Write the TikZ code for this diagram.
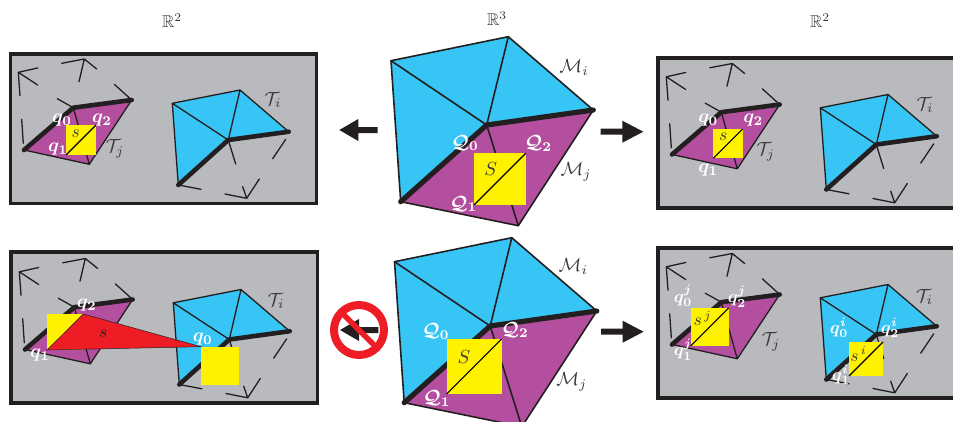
\documentclass[tikz,border=0pt]{standalone}
\usepackage{amsmath,amssymb,bm}
\definecolor{frameblack}{HTML}{231F20}
\definecolor{panelgray}{HTML}{B9BABD}
\definecolor{meshblue}{HTML}{36C5F4}
\definecolor{meshmag}{HTML}{B34F9E}
\definecolor{sqyellow}{HTML}{FFF200}
\definecolor{signred}{HTML}{EE1C25}
\definecolor{labgray}{HTML}{3A3A3C}
\tikzset{
 x=1pt,y=-1pt,
 panel/.style={fill=panelgray,draw=frameblack,line width=3.5pt},
 thinline/.style={draw=frameblack,line width=1.3pt,line join=round,line cap=round},
 thickline/.style={draw=frameblack,line width=4.6pt,line join=round,line cap=round},
 mthin/.style={draw=frameblack,line width=1.6pt,line join=round,line cap=round},
 mthick/.style={draw=frameblack,line width=5.2pt,line join=round,line cap=round},
 sqfill/.style={fill=sqyellow,draw=none},
 diag/.style={draw=black,line width=1.1pt},
 whitelab/.style={text=white,inner sep=0pt,scale=1.9},
 whitesm/.style={text=white,inner sep=0pt,scale=1.75},
 graylab/.style={text=labgray,inner sep=0pt,scale=1.9},
 slab/.style={text=labgray,inner sep=0pt,scale=1.75},
 biglab/.style={text=labgray,inner sep=0pt,scale=1.7},
 arrowshape/.style={fill=frameblack,draw=none},
}
% flat pieces, coordinates as in the upper left panel
\newcommand{\flatmesh}[1]{%
\begin{scope}[shift={#1}]
 \coordinate (A) at (24,150); \coordinate (B) at (73.3,107.7);
 \coordinate (C) at (131.7,100); \coordinate (D) at (89.3,164.3);
 \coordinate (P) at (172.3,103.3); \coordinate (Q) at (240,90);
 \coordinate (R) at (288.7,131.7); \coordinate (O) at (228.3,140);
 \coordinate (S) at (178.3,185);
 \fill[meshmag] (A)--(B)--(C)--(D)--cycle;
 \fill[meshblue] (P)--(Q)--(R)--(O)--(S)--cycle;
 \draw[thinline] (20,95.7)--(18.3,72.3)--(37.7,68) (18.3,72.3)--(37.7,85);
 \draw[thinline] (79,81.7)--(84.3,59)--(96.7,69) (61.7,63.3)--(84.3,59);
 \draw[thinline] (21.7,119.3)--(23.3,143.3);
 \draw[thinline] (57.3,98.7)--(B)--(D)--(A) (114.3,84.3)--(C)--(D);
 \draw[thinline] (R)--(Q)--(P)--(S) (P)--(O)--(Q);
 \draw[thinline] (O)--(235.7,164) (285.7,139.3)--(272.7,158.7);
 \draw[thinline] (S)--(201,189.3) (225,194)--(246.7,198.3)--(259.3,179) (246.7,198.3)--(242.7,186.7);
 \draw[thickline] (A)--(B)--(C);
 \draw[thickline] (S)--(O)--(R);
\end{scope}}
% central mesh
\newcommand{\bigmesh}[1]{%
\begin{scope}[shift={#1}]
 \coordinate (MP) at (391,60.7); \coordinate (MQ) at (508.3,36.7);
 \coordinate (MR) at (593.3,110); \coordinate (MO) at (486.7,125);
 \coordinate (MS) at (400.7,201.7); \coordinate (MD) at (518.3,225.7);
 \fill[meshblue] (MP)--(MQ)--(MR)--(MO)--(MS)--cycle;
 \fill[meshmag] (MS)--(MO)--(MR)--(MD)--cycle;
 \draw[mthin] (MR)--(MQ)--(MP)--(MS)--(MD)--(MR);
 \draw[mthin] (MP)--(MO)--(MQ) (MO)--(MD);
 \draw[mthick] (MS)--(MO)--(MR);
\end{scope}}
\newcommand{\leftarrowshape}[2]{\fill[arrowshape,shift={(#1,#2)}] (0,0)--(19,-11)--(19,-3)--(38.4,-3)--(38.4,3)--(19,3)--(19,11)--cycle;}
\newcommand{\rightarrowshape}[2]{\fill[arrowshape,shift={(#1,#2)}] (0,-3)--(21.6,-3)--(21.6,-11)--(42.6,0)--(21.6,11)--(21.6,3)--(0,3)--cycle;}
\begin{document}
\begin{tikzpicture}
\useasboundingbox (0,0) rectangle (953,421);
\begin{scope}
\clip (0,0) rectangle (953,421);
\node[biglab] (r2a) at (172,21) {$\mathbb{R}^2$};
\node[biglab] (r3) at (497,19) {$\mathbb{R}^3$};
\node[biglab] (r2b) at (820,21) {$\mathbb{R}^2$};

% panels
\draw[panel] (10.3,53.8) rectangle (316.5,203.5);
\draw[panel] (657.8,57.8) rectangle (960,208.2);
\draw[panel] (10.8,251.8) rectangle (317.5,403.2);
\draw[panel] (657.8,247.8) rectangle (960,398.2);

% upper left panel
\flatmesh{(0,0)}
\fill[sqfill] (66,125) rectangle (96,155);
\draw[diag] (66,155)--(96,125);
\node[whitelab] (a0) at (62,120.5) {$\bm{q_0}$};
\node[whitelab] (a1) at (58,149.5) {$\bm{q_1}$};
\node[whitelab] (a2) at (102,120.5) {$\bm{q_2}$};
\node[slab] (as) at (75.7,134) {$s$};
\node[graylab] (atj) at (115,149) {$\mathcal{T}_j$};
\node[graylab] (ati) at (273,100) {$\mathcal{T}_i$};

% upper right panel
\flatmesh{(648,4.5)}
\fill[sqfill] (713.3,129) rectangle (742.7,158.3);
\draw[diag] (713.3,158.3)--(742.7,129);
\node[whitelab] (b0) at (708.3,120.5) {$\bm{q_0}$};
\node[whitelab] (b1) at (708.3,170.5) {$\bm{q_1}$};
\node[whitelab] (b2) at (753.3,120.5) {$\bm{q_2}$};
\node[slab] (bs) at (723.3,136.7) {$s$};
\node[graylab] (btj) at (765.7,152) {$\mathcal{T}_j$};
\node[graylab] (bti) at (925,105) {$\mathcal{T}_i$};

% lower left panel
\flatmesh{(1,199.5)}
\fill[sqfill] (47,314) rectangle (83,350);
\fill[sqfill] (201,346.7) rectangle (239,384.7);
\coordinate (t1) at (47,350); \coordinate (t2) at (83.3,314); \coordinate (t0) at (201,346.7);
\fill[signred] (t1)--(t2)--(t0)--cycle;
\draw[draw=frameblack,line width=.5pt] (t1)--(t2)--(t0)--cycle;
\node[whitelab] (c0) at (202.7,339) {$\bm{q_0}$};
\node[whitelab] (c1) at (40,355.5) {$\bm{q_1}$};
\node[whitelab] (c2) at (86.7,305.5) {$\bm{q_2}$};
\node[text=frameblack,inner sep=0pt,scale=1.75] (cs) at (103.3,334) {$s$};
\node[graylab] (cti) at (276,301) {$\mathcal{T}_i$};

% lower right panel
\flatmesh{(648,194.5)}
\fill[sqfill] (690.7,308) rectangle (728.7,346);
\draw[diag] (690.7,346)--(728.7,308);
\fill[sqfill] (849,342) rectangle (883,376);
\draw[diag] (849,376)--(883,342);
\node[whitesm] (d0) at (683,296) {$\bm{q_0^j}$};
\node[whitesm] (d1) at (683,349.5) {$\bm{q_1^j}$};
\node[whitesm] (d2) at (737,296.5) {$\bm{q_2^j}$};
\node[whitesm] (e0) at (839,328) {$\bm{q_0^i}$};
\node[whitesm] (e1) at (841,375) {$\bm{q_1^i}$};
\node[whitesm] (e2) at (890,328) {$\bm{q_2^i}$};
\node[slab] (ds) at (702.5,318.5) {$s^{\,j}$};
\node[slab] (es) at (858.5,354) {$s^{\,i}$};
\node[graylab] (dtj) at (771,342) {$\mathcal{T}_j$};
\node[graylab] (dti) at (924.5,297) {$\mathcal{T}_i$};

% upper central mesh
\bigmesh{(0,0)}
\fill[sqfill] (474,153.3) rectangle (525.7,205);
\draw[diag] (474,205)--(525.7,153.3);
\node[whitelab] (f0) at (465,143) {$\bm{\mathcal{Q}_0}$};
\node[whitelab] (f1) at (463.5,204) {$\bm{\mathcal{Q}_1}$};
\node[whitelab] (f2) at (538.3,143.5) {$\bm{\mathcal{Q}_2}$};
\node[graylab] (fs) at (490.7,169.5) {$S$};
\node[graylab] (fmi) at (574,67.7) {$\mathcal{M}_i$};
\node[graylab] (fmj) at (576,172) {$\mathcal{M}_j$};

% lower central mesh
\bigmesh{(3.5,201)}
\fill[sqfill] (446.7,339) rectangle (501.7,394);
\draw[diag] (446.7,394)--(501.7,339);
\node[whitelab] (g0) at (435.7,331.7) {$\bm{\mathcal{Q}_0}$};
\node[whitelab] (g1) at (436.7,398.3) {$\bm{\mathcal{Q}_1}$};
\node[whitelab] (g2) at (515,330) {$\bm{\mathcal{Q}_2}$};
\node[graylab] (gs) at (464,356.7) {$S$};
\node[graylab] (gmi) at (573.3,266.7) {$\mathcal{M}_i$};
\node[graylab] (gmj) at (571.7,381.7) {$\mathcal{M}_j$};

% arrows
\leftarrowshape{339.3}{130}
\rightarrowshape{600.7}{131.7}
\rightarrowshape{601}{331.7}
\leftarrowshape{340}{330}
\coordinate (nosign) at (359,330);
\draw[signred,line width=8pt] (nosign) circle (25);
\draw[signred,line width=5.5pt] (343,314)--(375,346);
\end{scope}
\end{tikzpicture}
\end{document}
